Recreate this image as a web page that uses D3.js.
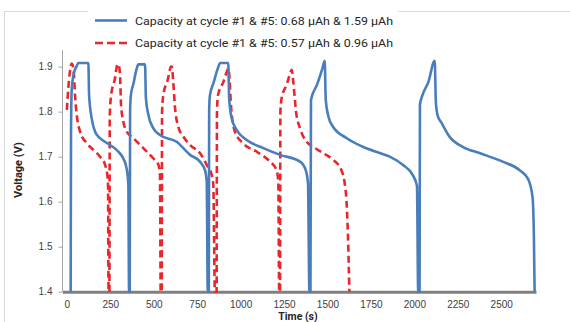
<!DOCTYPE html>
<html>
<head>
<meta charset="utf-8">
<script src="https://cdn.jsdelivr.net/npm/d3@7/dist/d3.min.js"></script>
<style>
  html, body { margin: 0; padding: 0; background: #fff; }
  svg { display: block; font-family: Roboto, "Liberation Sans", sans-serif; }
</style>
</head>
<body>
<div id="chart"></div>
<script>
// values
const blueTime = [22, 24, 28, 40, 55, 66, 124, 128, 143, 162, 191, 249, 297, 325, 344, 354, 358,
  362, 364, 368, 385, 400, 412, 450, 455, 469, 498, 536, 632, 709, 766, 795, 805, 811,
  817, 819, 823, 845, 868, 882, 929, 934, 949, 978, 1035, 1131, 1227, 1342, 1375, 1388, 1396,
  1402, 1405, 1440, 1470, 1484, 1490, 1505, 1531, 1611, 1703, 1801, 1858, 1933, 1991, 2015, 2022,
  2030, 2032, 2045, 2080, 2117, 2124, 2135, 2155, 2203, 2278, 2375, 2508, 2606, 2655, 2680, 2688, 2692];
const blueVoltage = [1.40, 1.75, 1.85, 1.885, 1.90, 1.908, 1.908, 1.837, 1.785, 1.756, 1.741, 1.726, 1.711, 1.696, 1.674, 1.637, 1.40,
  1.40, 1.80, 1.835, 1.865, 1.893, 1.905, 1.905, 1.830, 1.793, 1.763, 1.748, 1.733, 1.704, 1.689, 1.670, 1.644, 1.40,
  1.40, 1.80, 1.835, 1.865, 1.895, 1.908, 1.908, 1.83, 1.785, 1.759, 1.737, 1.719, 1.704, 1.689, 1.670, 1.640, 1.40,
  1.40, 1.826, 1.86, 1.895, 1.913, 1.826, 1.79, 1.767, 1.741, 1.722, 1.708, 1.70, 1.682, 1.659, 1.635, 1.40,
  1.40, 1.815, 1.835, 1.865, 1.913, 1.819, 1.79, 1.776, 1.744, 1.722, 1.708, 1.689, 1.670, 1.65, 1.61, 1.52, 1.40];

const redTime = [0, 8, 18, 28, 35, 41, 47, 57, 76, 114, 153, 191, 220, 233, 237, 240,
  245, 247, 255, 275, 292, 297, 306, 312, 325, 344, 383, 440, 498, 527, 536, 540,
  546, 548, 555, 580, 600, 604, 613, 622, 641, 670, 709, 766, 805, 834, 843, 852,
  862, 864, 870, 900, 925, 929, 935, 945, 967, 1016, 1093, 1169, 1207, 1217, 1222,
  1227, 1229, 1236, 1265, 1290, 1294, 1303, 1319, 1342, 1380, 1417, 1475, 1532, 1580, 1599, 1609, 1618, 1626];
const redVoltage = [1.804, 1.85, 1.89, 1.907, 1.90, 1.882, 1.837, 1.793, 1.756, 1.730, 1.715, 1.70, 1.682, 1.659, 1.64, 1.40,
  1.40, 1.79, 1.837, 1.87, 1.905, 1.905, 1.882, 1.815, 1.778, 1.756, 1.741, 1.719, 1.696, 1.682, 1.659, 1.40,
  1.40, 1.80, 1.837, 1.87, 1.90, 1.90, 1.863, 1.811, 1.767, 1.745, 1.726, 1.708, 1.682, 1.659, 1.637, 1.40,
  1.40, 1.80, 1.837, 1.865, 1.893, 1.896, 1.88, 1.811, 1.756, 1.729, 1.711, 1.689, 1.670, 1.644, 1.40,
  1.40, 1.80, 1.83, 1.86, 1.89, 1.893, 1.867, 1.80, 1.763, 1.733, 1.722, 1.708, 1.693, 1.670, 1.641, 1.604, 1.522, 1.40];

const xTicks = [0, 250, 500, 750, 1000, 1250, 1500, 1750, 2000, 2250, 2500];
const yTicks = [1.4, 1.5, 1.6, 1.7, 1.8, 1.9];
const legendLabels = [
  'Capacity at cycle #1 & #5: 0.68 µAh & 1.59 µAh',
  'Capacity at cycle #1 & #5: 0.57 µAh & 0.96 µAh'
];
const seriesColors = ['#4a7ebb', '#e8262b'];

const width = 570, height = 322;
const svg = d3.select('#chart').append('svg')
  .attr('width', width)
  .attr('height', height);

// faint frame of the original figure
svg.append('rect')
  .attr('x', 4.5).attr('y', 11.5)
  .attr('width', width).attr('height', height)
  .attr('fill', 'none')
  .attr('stroke', '#d9d9d9');

const x = d3.scaleLinear().domain([-25, 2700]).range([62.5, 536]);
const y = d3.scaleLinear().domain([1.4, 1.937]).range([291.7, 50]);

// y axis
const yAxis = svg.append('g')
  .attr('transform', `translate(${x(-25)},0)`)
  .call(d3.axisLeft(y).tickValues(yTicks).tickFormat(d3.format('.1f')).tickSize(4).tickPadding(6));
yAxis.select('.domain').attr('stroke', '#a6a6a6').attr('d', `M0,${y(1.4)}V${y(1.937)}`);
yAxis.selectAll('.tick line').attr('stroke', '#a6a6a6');
yAxis.selectAll('text').attr('fill', '#404040').style('font-size', '10px');

// x axis
const xAxis = svg.append('g')
  .attr('transform', `translate(0,${y(1.4)})`)
  .call(d3.axisBottom(x).tickValues(xTicks).tickFormat(d3.format('d')).tickSize(0).tickPadding(9));
xAxis.select('.domain').attr('stroke', '#808080').attr('stroke-width', 3);
xAxis.selectAll('text').attr('fill', '#404040').style('font-size', '10px');

const line = d3.line()
  .x(d => x(d[0]))
  .y(d => y(d[1]))
  .curve(d3.curveMonotoneX);

const redData = redTime.map((t, i) => [t, redVoltage[i]]);
const blueData = blueTime.map((t, i) => [t, blueVoltage[i]]);

svg.append('path')
  .datum(redData)
  .attr('d', line)
  .attr('fill', 'none')
  .attr('stroke', seriesColors[1])
  .attr('stroke-width', 2.6)
  .attr('stroke-dasharray', '7,4');

svg.append('path')
  .datum(blueData)
  .attr('d', line)
  .attr('fill', 'none')
  .attr('stroke', seriesColors[0])
  .attr('stroke-width', 2.6)
  .attr('stroke-linejoin', 'round');

// axis titles
svg.append('text')
  .attr('transform', 'translate(22,170) rotate(-90)')
  .attr('text-anchor', 'middle')
  .style('font-size', '11px')
  .style('font-weight', 'bold')
  .attr('fill', '#262626')
  .text('Voltage (V)');

svg.append('text')
  .attr('x', 298).attr('y', 319.5)
  .attr('text-anchor', 'middle')
  .style('font-size', '10.5px')
  .style('font-weight', 'bold')
  .attr('fill', '#262626')
  .text('Time (s)');

// legend
const legend = svg.append('g');
legendLabels.forEach((label, i) => {
  const ly = 20.5 + i * 22.5;
  legend.append('rect')
    .attr('x', 88).attr('y', ly - 10)
    .attr('width', 310).attr('height', 20)
    .attr('fill', '#fff');
  legend.append('line')
    .attr('x1', 95).attr('x2', 127)
    .attr('y1', ly).attr('y2', ly)
    .attr('stroke', seriesColors[i])
    .attr('stroke-width', 2.6)
    .attr('stroke-dasharray', i === 1 ? '8,4' : null);
  legend.append('text')
    .attr('x', 135).attr('y', ly + 4)
    .attr('textLength', 258)
    .attr('lengthAdjust', 'spacingAndGlyphs')
    .style('font-size', '11px')
    .attr('fill', '#262626')
    .text(label);
});
</script>
</body>
</html>
